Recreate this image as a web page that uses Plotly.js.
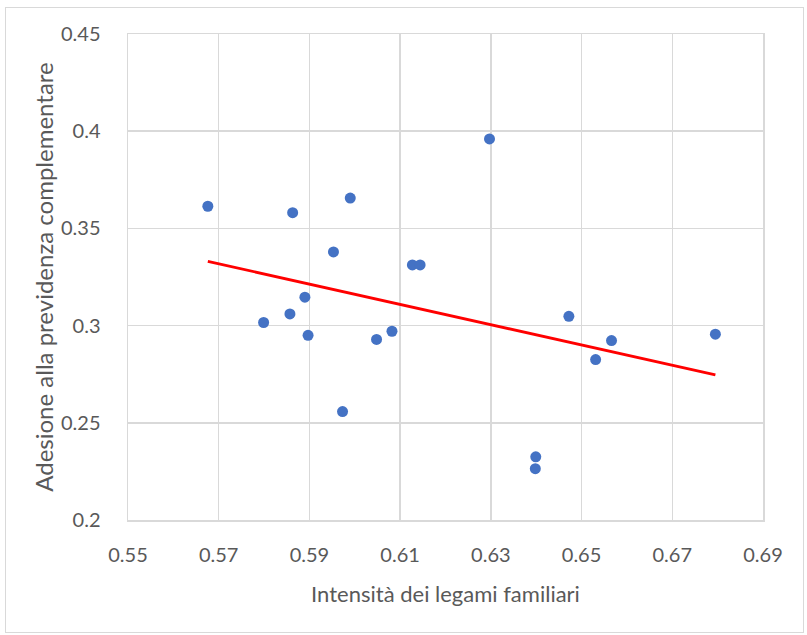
<!DOCTYPE html>
<html>
<head>
<meta charset="utf-8">
<script src="https://cdn.plot.ly/plotly-3.0.1.min.js"></script>
<style>
  html, body { margin: 0; padding: 0; background: #ffffff; }
  #chart { position: absolute; left: 0; top: 0; width: 807px; height: 635px; }
  #frame { position: absolute; left: 5px; top: 7px; width: 797px; height: 624px;
           border: 1.5px solid #d9d9d9; pointer-events: none; }
</style>
</head>
<body>
<div id="chart"></div>
<div id="frame"></div>
<script>
// Data
const legami = [0.5676, 0.5799, 0.5857, 0.5863, 0.5890, 0.5897, 0.5953, 0.5973, 0.5990, 0.6048,
                0.6082, 0.6127, 0.6144, 0.6297, 0.6399, 0.6398, 0.6472, 0.6531, 0.6566, 0.6795];
const adesione = [0.3614, 0.3016, 0.3060, 0.3581, 0.3146, 0.2950, 0.3379, 0.2558, 0.3656, 0.2929,
                  0.2971, 0.3312, 0.3312, 0.3960, 0.2325, 0.2264, 0.3048, 0.2825, 0.2923, 0.2956];
const xTicks = [0.55, 0.57, 0.59, 0.61, 0.63, 0.65, 0.67, 0.69];
const xTickText = ["0.55", "0.57", "0.59", "0.61", "0.63", "0.65", "0.67", "0.69"];
const yTicks = [0.2, 0.25, 0.3, 0.35, 0.4, 0.45];
const yTickText = ["0.2", "0.25", "0.3", "0.35", "0.4", "0.45"];
const xTitle = "Intensità dei legami familiari";
const yTitle = "Adesione alla previdenza complementare";

// Linear least-squares trendline computed from the data
const n = legami.length;
const mx = legami.reduce((a, b) => a + b, 0) / n;
const my = adesione.reduce((a, b) => a + b, 0) / n;
let sxy = 0, sxx = 0;
for (let i = 0; i < n; i++) { sxy += (legami[i] - mx) * (adesione[i] - my); sxx += (legami[i] - mx) ** 2; }
const slope = sxy / sxx, intercept = my - slope * mx;
const xMin = Math.min(...legami), xMax = Math.max(...legami);
const trendX = [xMin, xMax];
const trendY = trendX.map(x => intercept + slope * x);

const font = "Lato, 'Open Sans', sans-serif";
const gray = "#595959";
const grid = "#d9d9d9";

const traces = [
  { x: legami, y: adesione, type: "scatter", mode: "markers",
    marker: { color: "#4472C4", size: 11 }, hoverinfo: "x+y", showlegend: false },
  { x: trendX, y: trendY, type: "scatter", mode: "lines",
    line: { color: "#FF0000", width: 2.75 }, hoverinfo: "skip", showlegend: false }
];

const layout = {
  width: 807, height: 635,
  margin: { l: 128, r: 44, t: 34, b: 115 },
  paper_bgcolor: "#ffffff", plot_bgcolor: "#ffffff",
  font: { family: font, color: gray },
  xaxis: {
    range: [0.55, 0.69], tickvals: xTicks, ticktext: xTickText,
    showgrid: true, gridcolor: grid, gridwidth: 1.5, zeroline: false,
    showline: true, linecolor: grid, linewidth: 1.5, mirror: true,
    ticks: "", ticklabelstandoff: 16,
    tickfont: { family: font, size: 20, color: gray },
    title: { text: xTitle, font: { family: font, size: 22, color: gray }, standoff: 22 }
  },
  yaxis: {
    range: [0.2, 0.45], tickvals: yTicks, ticktext: yTickText,
    showgrid: true, gridcolor: grid, gridwidth: 1.5, zeroline: false,
    showline: true, linecolor: grid, linewidth: 1.5, mirror: true,
    ticks: "", ticklabelstandoff: 22,
    tickfont: { family: font, size: 20, color: gray },
    title: { text: yTitle, font: { family: font, size: 24, color: gray }, standoff: 0 }
  }
};

Plotly.newPlot("chart", traces, layout, { displayModeBar: false, staticPlot: true });
</script>
</body>
</html>
